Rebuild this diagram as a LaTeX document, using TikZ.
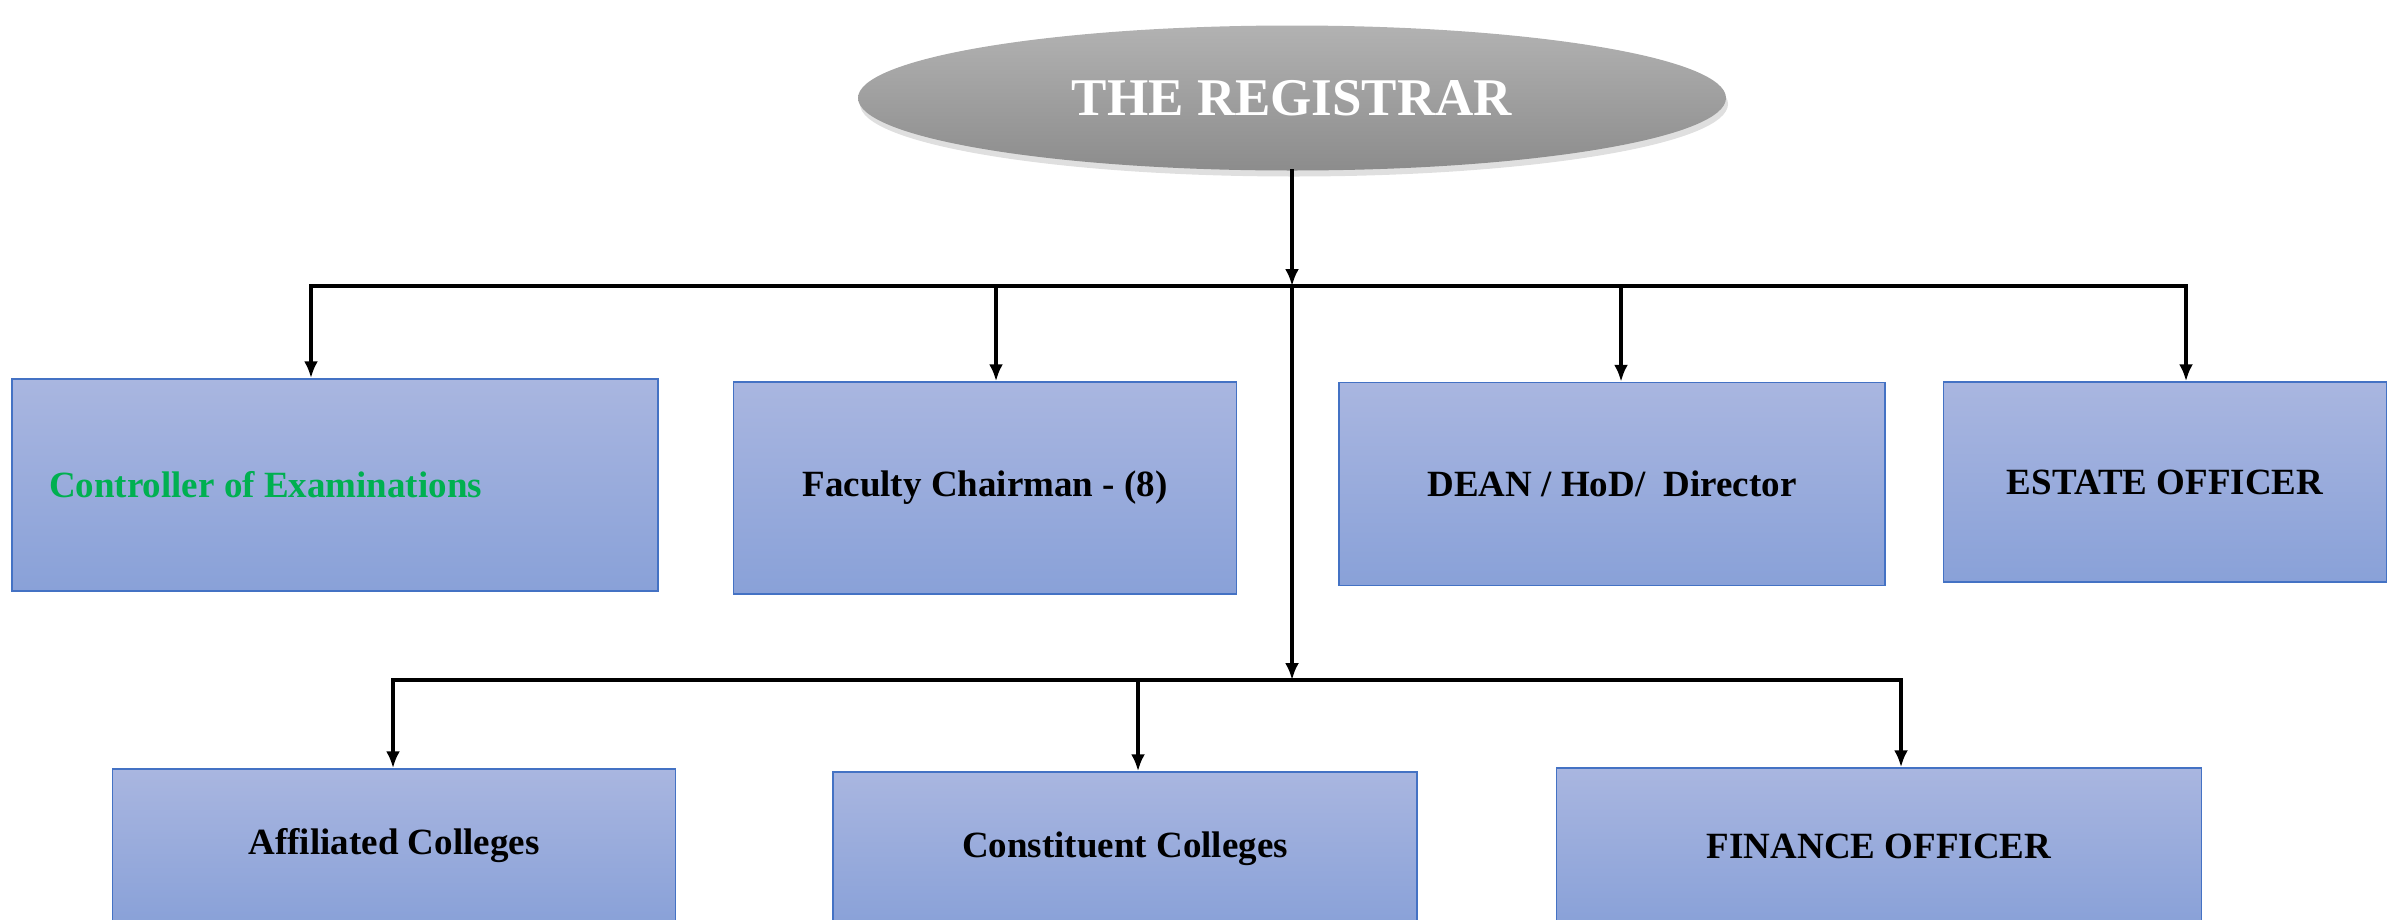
\documentclass[tikz,border=0pt]{standalone}
\usepackage{fontspec}
\setmainfont{Liberation Serif}
\usepackage{tikz}
\usetikzlibrary{arrows.meta, positioning, shapes.geometric, shadows}
\usepackage{xcolor}
\definecolor{BoxTop}{RGB}{169,182,224}
\definecolor{BoxBottom}{RGB}{137,161,216}
\definecolor{BoxEdge}{RGB}{68,114,196}
\definecolor{HeadTop}{RGB}{178,178,178}
\definecolor{HeadBottom}{RGB}{140,140,140}
\definecolor{ExamGreen}{RGB}{0,176,80}
\tikzset{%
  head_block/.style={%
    ellipse,%
    minimum width=868pt,%
    minimum height=145pt,%
    top color=HeadTop,%
    bottom color=HeadBottom,%
    drop shadow={opacity=0.25, shadow xshift=2pt, shadow yshift=-6pt},%
    text=white,%
    font={\bfseries\fontsize{53}{60}\selectfont},%
  },
  office/.style={%
    rectangle,%
    draw=BoxEdge,%
    line width=1.5pt,%
    top color=BoxTop,%
    bottom color=BoxBottom,%
    font={\bfseries\fontsize{37}{44}\selectfont},%
    align=center,%
  },
  wire/.style={%
    color=black,%
    line width=4pt,%
    line join=miter,%
    line cap=rect,%
  },
  arrow/.style={-{Latex[length=17pt, width=14pt]}},
}

\begin{document}
\begin{tikzpicture}[x=1pt, y=-1pt]

    \useasboundingbox (0,0) rectangle (2389,919);

    \node [head_block] (Registrar) at (1292,98) {THE REGISTRAR};

    % first row
    \node [office, minimum width=646pt, minimum height=212pt, text=ExamGreen]
      (Controller) at (335,485) {\makebox[572pt][l]{Controller of Examinations}};
    \node [office, minimum width=503pt, minimum height=212pt] (Chairman) at (985,488) {Faculty Chairman - (8)};
    \node [office, minimum width=546pt, minimum height=203pt] (Dean) at (1612,484) {DEAN / HoD/\ \ Director};
    \node [office, minimum width=443pt, minimum height=200pt] (Estate) at (2165,482) {ESTATE OFFICER};

    % second row
    \node [office, minimum width=563pt, minimum height=154pt] (Affiliated) at (394,846) {Affiliated Colleges};
    \node [office, minimum width=584pt, minimum height=154pt] (Constituent) at (1125,849) {Constituent Colleges};
    \node [office, minimum width=645pt, minimum height=156pt] (Finance) at (1879,846) {FINANCE OFFICER};

    \coordinate (TopBusLeft) at (311,286);
    \coordinate (TopBusRight) at (2186,286);
    \coordinate (Fork) at (1292,286);
    \coordinate (DropChairman) at (996,286);
    \coordinate (DropDean) at (1621,286);
    \coordinate (LowBusLeft) at (393,680);
    \coordinate (LowBusRight) at (1901,680);
    \coordinate (DropConstituent) at (1138,680);

    \draw [arrow, wire]
      (Registrar.south)
      --
      (Fork);
    \draw [wire]
      (TopBusLeft)
      --
      (TopBusRight);
    \draw [arrow, wire]
      (TopBusLeft)
      --
      (TopBusLeft |- Controller.north);
    \draw [arrow, wire]
      (DropChairman)
      --
      (DropChairman |- Chairman.north);
    \draw [arrow, wire]
      (DropDean)
      --
      (DropDean |- Dean.north);
    \draw [arrow, wire]
      (TopBusRight)
      --
      (TopBusRight |- Estate.north);

    \draw [arrow, wire]
      (Fork)
      --
      (Fork |- LowBusLeft);
    \draw [wire]
      (LowBusLeft)
      --
      (LowBusRight);
    \draw [arrow, wire]
      (LowBusLeft)
      --
      (LowBusLeft |- Affiliated.north);
    \draw [arrow, wire]
      (DropConstituent)
      --
      (DropConstituent |- Constituent.north);
    \draw [arrow, wire]
      (LowBusRight)
      --
      (LowBusRight |- Finance.north);

  \end{tikzpicture}
\end{document}
